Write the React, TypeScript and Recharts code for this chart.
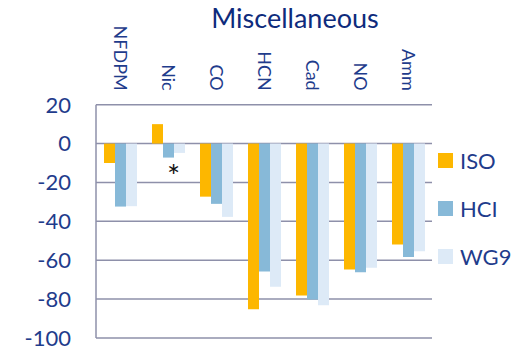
import React from 'react';
import { BarChart, Bar, XAxis, YAxis, CartesianGrid, Legend, LabelList } from 'recharts';

const categories = ['NFDPM', 'Nic', 'CO', 'HCN', 'Cad', 'NO', 'Amm'];
const isoValues = [-10, 10, -27.3, -85.2, -78.2, -64.8, -51.9];
const hciValues = [-32.4, -7.2, -31, -65.8, -80.2, -66.2, -58.4];
const wg9Values = [-32.2, -4.8, -37.7, -73.7, -83.1, -63.9, -55.4];
const notes = ['', '*', '', '', '', '', ''];
const yTicks = [-100, -80, -60, -40, -20, 0, 20];
const seriesOrder = ['ISO', 'HCI', 'WG9'];

const data = categories.map((c, i) => ({
  name: c,
  ISO: isoValues[i],
  HCI: hciValues[i],
  WG9: wg9Values[i],
  note: notes[i],
}));

const FONT = 'Lato, "Noto Sans", sans-serif';
const TEXT = '#1f3c8c';
const GRID = '#8e90aa';
const COLORS = { ISO: '#fdb700', HCI: '#87b9d8', WG9: '#ddeaf7' };

const CatTick = (props: any) => {
  const { x, y, payload } = props;
  return (
    <text
      x={x}
      y={y}
      transform={`rotate(90, ${x}, ${y})`}
      textAnchor="end"
      dy="0.36em"
      fill={TEXT}
      fontSize={18}
      fontFamily={FONT}
    >
      {payload.value}
    </text>
  );
};

const NoteLabel = (props: any) => {
  const { x, y, width, height, value } = props;
  if (!value) return null;
  const bottom = Math.max(Number(y), Number(y) + Number(height));
  return (
    <text x={Number(x) + Number(width) / 2 + 5} y={bottom + 29} textAnchor="middle" fontSize={31} fontFamily={FONT} fill="#111">
      {value}
    </text>
  );
};

const LegendContent = (props: any) => {
  const raw = (props.payload || []) as any[];
  const items = seriesOrder.map((k) => raw.find((p: any) => p.dataKey === k || p.value === k)).filter(Boolean);
  return (
    <svg width={90} height={130} style={{ overflow: 'visible', display: 'block' }}>
      {items.map((it: any, i: number) => (
        <g key={it.value}>
          <rect x={0} y={i * 48} width={15} height={15} fill={it.color} />
          <text x={22} y={i * 48 + 15.5} fontSize={22} fontFamily={FONT} fill={TEXT}>
            {it.value}
          </text>
        </g>
      ))}
    </svg>
  );
};

export default function App() {
  return (
    <div style={{ position: 'absolute', left: 0, top: 0, width: 529, height: 349, background: '#fff' }}>
      <div
        style={{
          position: 'absolute',
          left: 0,
          width: 590,
          top: 2,
          textAlign: 'center',
          fontFamily: FONT,
          fontSize: 27,
          color: '#0e2b7c',
          lineHeight: '32px',
        }}
      >
        Miscellaneous
      </div>
      <BarChart
        width={529}
        height={349}
        data={data}
        margin={{ top: 90.7, right: 7, bottom: 11, left: 0 }}
        barCategoryGap={8}
        barGap={0}
      >
        <CartesianGrid horizontal vertical={false} stroke={GRID} strokeWidth={1.5} />
        <XAxis
          dataKey="name"
          orientation="top"
          height={14}
          tickSize={0}
          tickMargin={14}
          axisLine={false}
          tickLine={false}
          tick={<CatTick />}
          interval={0}
        />
        <YAxis
          domain={[-100, 20]}
          ticks={yTicks}
          width={96}
          tickSize={0}
          tickMargin={25}
          axisLine={{ stroke: GRID, strokeWidth: 1.5 }}
          tickLine={false}
          tick={{ fill: TEXT, fontSize: 22, fontFamily: FONT }}
          interval={0}
        />
        <Legend
          layout="vertical"
          verticalAlign="middle"
          align="right"
          width={90}
          itemSorter={null as any}
          wrapperStyle={{ position: 'absolute', left: 438, top: 152.7, width: 90 }}
          content={<LegendContent />}
        />
        <Bar dataKey="ISO" fill={COLORS.ISO} isAnimationActive={false} />
        <Bar dataKey="HCI" fill={COLORS.HCI} isAnimationActive={false}>
          <LabelList dataKey="note" content={<NoteLabel />} />
        </Bar>
        <Bar dataKey="WG9" fill={COLORS.WG9} isAnimationActive={false} />
      </BarChart>
    </div>
  );
}
